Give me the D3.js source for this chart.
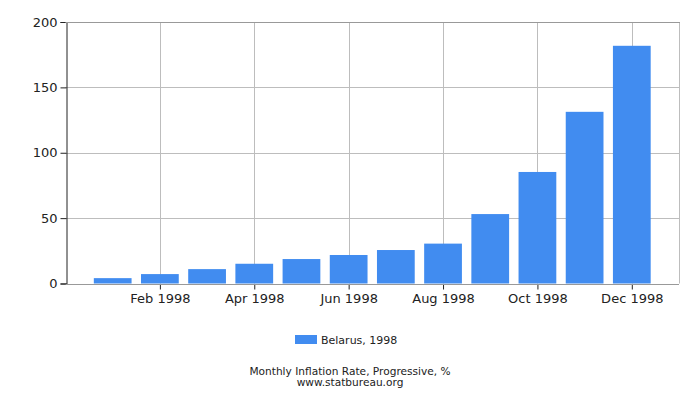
<!DOCTYPE html>
<html><head><meta charset="utf-8">
<script src="https://cdn.jsdelivr.net/npm/d3@7"></script>
<style>body{margin:0;background:#fff}text{font-family:"DejaVu Sans",sans-serif}</style>
</head><body><svg id="c" width="700" height="400"></svg>
<script>
const months = ["Jan 1998","Feb 1998","Mar 1998","Apr 1998","May 1998","Jun 1998","Jul 1998","Aug 1998","Sep 1998","Oct 1998","Nov 1998","Dec 1998"];
const values = [4.1, 7.2, 11.0, 15.1, 18.7, 21.8, 25.6, 30.5, 53.1, 85.3, 131.3, 181.8];
const yTicks = [0, 50, 100, 150, 200];
const seriesName = "Belarus, 1998";
const title = "Monthly Inflation Rate, Progressive, %";
const source = "www.statbureau.org";

const svg = d3.select("#c");
const L = 65.5, R = 679, T = 22, B = 283.5;
const x = d3.scaleLinear().domain([0, 13]).range([L, R]);
const y = d3.scaleLinear().domain([0, 200]).range([B, T]);
const bw = (x(1) - x(0)) * 0.8;
const grid = "#bdbdbd";

// grid
svg.append("g").selectAll("line").data(yTicks.slice(1)).join("line")
  .attr("x1", L).attr("x2", R).attr("y1", d => Math.round(y(d)) + 0.5).attr("y2", d => Math.round(y(d)) + 0.5)
  .attr("stroke", grid);
const xt = months.map((m, i) => ({m, i: i + 1})).filter(d => d.i % 2 === 0);
svg.append("g").selectAll("line").data(xt).join("line")
  .attr("x1", d => Math.round(x(d.i)) + 0.5).attr("x2", d => Math.round(x(d.i)) + 0.5).attr("y1", T).attr("y2", B)
  .attr("stroke", grid);
svg.append("line").attr("x1", R + 0.5).attr("x2", R + 0.5).attr("y1", T).attr("y2", B).attr("stroke", grid);

// bars
svg.append("g").selectAll("rect").data(values).join("rect")
  .attr("x", (d, i) => x(i + 1) - bw / 2).attr("width", bw)
  .attr("y", d => y(d)).attr("height", d => B - y(d))
  .attr("fill", "#418cf0");

// axes
const ya = d3.axisLeft(y).tickValues(yTicks).tickSize(6).tickPadding(3);
svg.append("g").attr("transform", `translate(${Math.round(L) + 0.5},0)`).call(ya)
  .call(g => { g.select(".domain").attr("stroke", "#222"); g.selectAll("text").attr("font-size", 13).attr("fill", "#222"); g.selectAll("line").attr("stroke", "#222"); });
const xa = d3.axisBottom(x).tickValues(xt.map(d => d.i)).tickFormat(i => months[i - 1]).tickSize(5).tickPadding(4).tickSizeOuter(0);
svg.append("g").attr("transform", `translate(0,${Math.round(B) + 0.5})`).call(xa)
  .call(g => { g.select(".domain").attr("stroke", "#222").attr("d", `M${L},0H${R}`); g.selectAll("text").attr("font-size", 13).attr("fill", "#222"); g.selectAll("line").attr("stroke", "#222"); });
svg.append("line").attr("x1", L).attr("x2", R).attr("y1", Math.round(B) + 0.5).attr("y2", Math.round(B) + 0.5).attr("stroke", "#999");
svg.append("line").attr("x1", L).attr("x2", R + 1).attr("y1", T + 0.5).attr("y2", T + 0.5).attr("stroke", "#999");

// legend
svg.append("rect").attr("x", 295).attr("y", 335).attr("width", 22).attr("height", 9).attr("fill", "#418cf0");
svg.append("text").attr("x", 321).attr("y", 344).attr("font-size", 11).attr("fill", "#222").text(seriesName);
svg.append("text").attr("x", 350).attr("y", 374.5).attr("text-anchor", "middle").attr("font-size", 10.6).attr("fill", "#222").text(title);
svg.append("text").attr("x", 350).attr("y", 385.5).attr("text-anchor", "middle").attr("font-size", 10.6).attr("fill", "#222").text(source);
</script></body></html>
